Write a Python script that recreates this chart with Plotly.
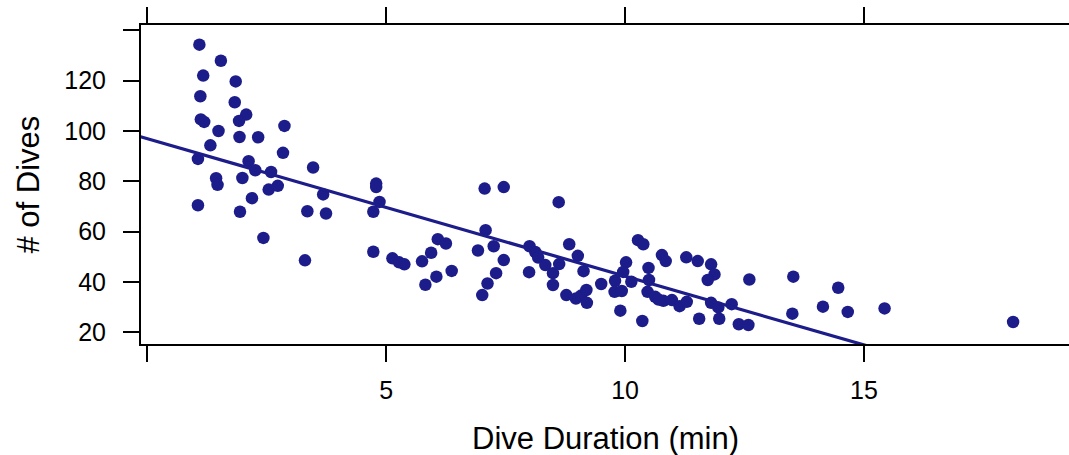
import plotly.graph_objects as go

# Dive duration (min) and number of dives
duration = [
    1.09, 1.54, 1.17, 1.85, 1.11, 1.83, 2.07, 1.92, 1.12, 1.19, 1.49, 2.87, 1.93, 2.32,
    1.32, 1.06, 2.84, 2.12, 2.26, 2.59, 3.47, 1.44, 1.47, 1.99, 2.54, 2.73, 2.19, 3.68,
    1.06, 1.94, 3.35, 3.74, 2.43, 3.30,
    4.79, 4.79, 4.86, 4.73, 4.73, 7.06, 7.46, 5.13, 5.27, 5.38, 5.75, 5.94, 6.08, 6.25,
    6.37, 6.05, 5.82, 6.92, 7.08, 7.25, 7.46, 7.30, 7.12, 7.01,
    8.00, 8.12, 8.18, 8.33, 8.49, 8.62, 7.99, 8.49, 8.61, 8.83, 9.01, 9.13, 8.77, 8.97,
    9.08, 9.19, 9.20, 9.50, 9.79, 9.78, 9.93, 10.02, 9.96, 10.13, 9.90, 10.27, 10.38, 10.36,
    10.77, 10.85, 10.49, 10.50, 10.47, 10.63, 10.80, 10.98, 11.14, 11.29, 11.28, 11.52,
    11.80, 11.87, 11.73, 12.60, 11.80, 11.95, 12.23, 11.55, 11.97, 12.38, 12.58, 10.70,
    13.52, 14.46, 13.50, 14.14, 14.66, 15.43, 18.12,
]
dives = [
    134.3, 127.9, 122.0, 119.7, 113.8, 111.4, 106.5, 104.0, 104.6, 103.6, 100.0, 102.0, 97.6, 97.5,
    94.3, 88.9, 91.3, 88.0, 84.4, 83.7, 85.5, 81.2, 78.6, 81.3, 76.7, 78.2, 73.3, 74.8,
    70.5, 67.9, 68.1, 67.2, 57.5, 48.6,
    79.1, 77.7, 71.8, 67.9, 52.0, 77.1, 77.7, 49.4, 47.8, 47.0, 48.2, 51.6, 57.0, 55.3,
    44.4, 42.1, 38.9, 52.5, 60.6, 54.2, 48.7, 43.5, 39.4, 34.8,
    54.2, 51.9, 49.7, 46.7, 43.5, 47.1, 43.9, 38.8, 71.7, 55.0, 50.4, 44.3, 34.8, 33.4,
    34.6, 36.8, 31.7, 39.2, 40.5, 36.1, 36.4, 47.8, 44.0, 40.1, 28.6, 56.6, 55.0, 24.5,
    50.7, 48.3, 45.6, 40.8, 36.1, 34.1, 32.5, 32.8, 30.4, 32.1, 49.8, 48.3,
    47.0, 43.0, 40.8, 41.0, 31.7, 29.9, 31.2, 25.4, 25.4, 23.2, 22.9, 33.0,
    42.1, 37.7, 27.4, 30.2, 28.1, 29.5, 24.1,
]

# Fitted regression line
fit_intercept = 96.9
fit_slope = -5.46

x_ticks = [0, 5, 10, 15]
x_tick_text = ["", "5", "10", "15"]
y_ticks = [20, 40, 60, 80, 100, 120, 140]
y_tick_text = ["20", "40", "60", "80", "100", "120", ""]

x_range = [-0.132, 19.29]
y_range = [15.36, 142.1]

COLOR = "#1c1c8a"
FONT = "Liberation Sans, Arial, Helvetica, sans-serif"

line_x = [x_range[0] - 0.5, x_range[1] + 0.5]
line_y = [fit_intercept + fit_slope * v for v in line_x]

fig = go.Figure()
fig.add_trace(go.Scatter(
    x=duration, y=dives, mode="markers",
    marker=dict(color=COLOR, size=12.5, line=dict(width=0)),
    showlegend=False, hoverinfo="x+y",
))
fig.add_trace(go.Scatter(
    x=line_x, y=line_y, mode="lines",
    line=dict(color=COLOR, width=3.2),
    showlegend=False, hoverinfo="skip",
))

fig.update_layout(
    width=1069, height=455, autosize=False,
    margin=dict(l=141, r=0, t=25, b=111),
    paper_bgcolor="white", plot_bgcolor="white",
    font=dict(family=FONT, color="black", size=25),
    xaxis=dict(
        range=x_range, tickvals=x_ticks, ticktext=x_tick_text,
        showgrid=False, zeroline=False,
        showline=True, linecolor="black", linewidth=2, mirror="ticks",
        ticks="outside", ticklen=16, tickwidth=1.5, tickcolor="black",
        tickfont=dict(size=25, family=FONT, color="black"),
        ticklabelstandoff=7,
    ),
    yaxis=dict(
        range=y_range, tickvals=y_ticks, ticktext=y_tick_text,
        showgrid=False, zeroline=False,
        showline=True, linecolor="black", linewidth=2, mirror=False,
        ticks="outside", ticklen=16, tickwidth=1.5, tickcolor="black",
        tickfont=dict(size=25, family=FONT, color="black"),
        ticklabelstandoff=12,
    ),
    annotations=[
        dict(text="Dive Duration (min)", xref="paper", yref="paper", x=0.5, y=0,
             xanchor="center", yanchor="middle", yshift=-94, showarrow=False,
             font=dict(size=31, family=FONT, color="black")),
        dict(text="# of Dives", xref="paper", yref="paper", x=0, y=0.5,
             xanchor="center", yanchor="middle", xshift=-113, textangle=-90,
             showarrow=False, font=dict(size=31, family=FONT, color="black")),
    ],
)

fig.write_html("out.html", config={"displayModeBar": False},
               post_script="document.body.style.margin='0';")
